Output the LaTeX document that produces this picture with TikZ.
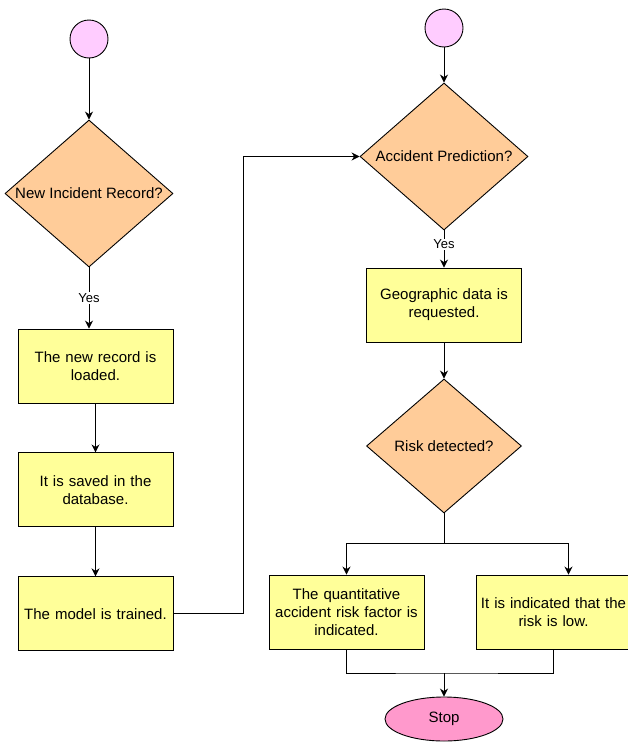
\documentclass[tikz,border=0pt]{standalone}
\usepackage{fontspec}
\setmainfont{Liberation Sans}
\usepackage{tikz}
\usetikzlibrary{arrows.meta,shapes.geometric,positioning}
\definecolor{startpink}{HTML}{FFCCFF}
\definecolor{decisionorange}{HTML}{FFCC99}
\definecolor{processyellow}{HTML}{FFFF99}
\definecolor{stoppink}{HTML}{FF99CC}

\begin{document}
\begin{tikzpicture}[
    x=1pt,y=-1pt,
    >={Stealth[length=8pt,width=8pt]},
    line width=0.9pt,
    every node/.style = {font=\fontsize{15}{18}\selectfont},
    startdot/.style = {circle,draw,fill=startpink,minimum size=38pt,inner sep=0pt},
    decision/.style = {diamond,draw,fill=decisionorange,inner sep=0pt},
    process/.style = {rectangle,draw,fill=processyellow,minimum width=155pt,
      minimum height=74pt,text width=150pt,align=center,inner sep=0pt},
    terminal/.style = {ellipse,draw,fill=stoppink,minimum width=118pt,
      minimum height=44pt,inner sep=0pt},
    yes/.style = {fill=white,inner sep=1pt,font=\fontsize{13}{15}\selectfont}
    ]
    \useasboundingbox (0,0) rectangle (627,742);
    % Left column
    \node[startdot] (s1) at (89,39) {};
    \node[decision,minimum width=168pt,minimum height=147pt,
      label={center:New Incident Record?}] (newrec) at (89,193.5) {};
    \node[process] (loaded) at (95.5,366) {The new record is\\loaded.};
    \node[process,below=49pt of loaded] (saved) {It is saved in the\\database.};
    \node[process,below=49pt of saved] (trained) {The model is trained.};
    % Right column
    \node[startdot] (s2) at (444,28) {};
    \node[decision,minimum width=168pt,minimum height=147pt,
      label={center:Accident Prediction?}] (predict) at (444,156.5) {};
    \node[process] (geo) at (444,305) {Geographic data is\\requested.};
    \node[decision,minimum width=155pt,minimum height=134pt,
      label={center:Risk detected?}] (risk) at (444,446) {};
    \node[process] (quant) at (346.5,612) {The quantitative\\accident risk factor is\\indicated.};
    \node[process] (low) at (553.5,612) {It is indicated that the\\risk is low.};
    \node[terminal] (stop) at (444,719) {Stop};
    % Arrows
    \draw[->] (s1) -- (newrec);
    \draw[->] (newrec.south) -- node[yes] {Yes} (newrec.south |- loaded.north);
    \draw[->] (loaded) -- (saved);
    \draw[->] (saved) -- (trained);
    \draw[->] (trained.east) -- ++(70,0) |- (predict.west);
    \draw[->] (s2) -- (predict);
    \draw[->] (predict) -- node[yes,pos=0.37] {Yes} (geo);
    \draw[->] (geo) -- (risk);
    % Branches
    \coordinate (split) at (444,543);
    \coordinate (merge) at (444,673);
    \draw (risk.south) -- (split);
    \draw[->] (split) -| (quant.north);
    \draw[->] (split) -| ([xshift=15pt]low.north);
    \draw (quant.south) |- (merge) -| (low.south);
    \draw[->] (merge) -- (stop);
\end{tikzpicture}
\end{document}
